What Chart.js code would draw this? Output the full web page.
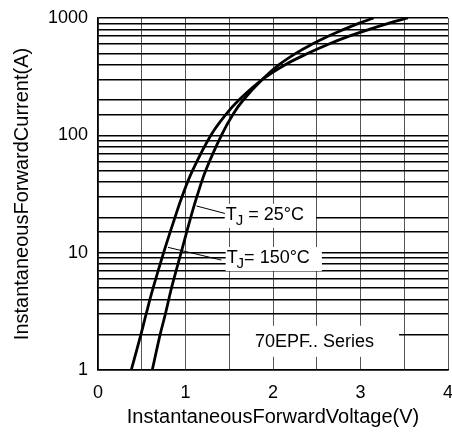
<!DOCTYPE html>
<html>
<head>
<meta charset="utf-8">
<script src="https://cdn.jsdelivr.net/npm/chart.js@4.4.1/dist/chart.umd.min.js"></script>
<style>
  html, body { margin: 0; padding: 0; background: #fff; }
</style>
</head>
<body>
<canvas id="chart" width="452" height="437"></canvas>
<script>
// forward voltage (V) at each current (A)
const current150 = [1, 2, 3, 5, 10, 20, 30, 50, 100, 150, 200, 300, 400, 500, 600, 700, 800, 900, 1000];
const voltage150 = [0.38, 0.49, 0.55, 0.63, 0.75, 0.88, 0.96, 1.08, 1.29, 1.46, 1.61, 1.88, 2.14, 2.40, 2.64, 2.87, 3.10, 3.32, 3.54];

const current25 = [1, 2, 3, 5, 10, 20, 30, 50, 100, 150, 200, 300, 400, 500, 600, 700, 800, 900, 1000];
const voltage25 = [0.62, 0.71, 0.77, 0.84, 0.95, 1.06, 1.13, 1.23, 1.41, 1.54, 1.66, 1.88, 2.07, 2.26, 2.45, 2.63, 2.81, 2.98, 3.15];

const xTickLabels = [0, 1, 2, 3, 4];
const yTickLabels = [1, 10, 100, 1000];

const FONT = "'Liberation Sans', Arial, sans-serif";

const toPoints = (xs, ys) => xs.map((x, i) => ({ x: x, y: ys[i] }));

// labels inside the plot
const tjLabels = [
  { temp: " = 25°C", at: [1.46, 21], from: [1.125, 25], to: [1.45, 21.6] },
  { temp: "= 150°C", at: [1.47, 9.0], from: [0.80, 11.1], to: [1.41, 8.65] }
];
const seriesLabel = { text: "70EPF.. Series", at: [2.475, 1.74] };

const notesPlugin = {
  id: "notes",
  beforeDatasetsDraw(chart) {
    const ctx = chart.ctx;
    const xs = chart.scales.x, ys = chart.scales.y;
    ctx.save();

    // series name, on a white box
    let cx = xs.getPixelForValue(seriesLabel.at[0]);
    let cy = ys.getPixelForValue(seriesLabel.at[1]);
    ctx.font = "18px " + FONT;
    let w = ctx.measureText(seriesLabel.text).width;
    ctx.fillStyle = "#fff";
    ctx.fillRect(cx - w / 2 - 25, cy - 16, w + 50, 31);
    ctx.fillStyle = "#000";
    ctx.textAlign = "center";
    ctx.textBaseline = "middle";
    ctx.fillText(seriesLabel.text, cx, cy);

    tjLabels.forEach(l => {
      const x0 = xs.getPixelForValue(l.at[0]);
      const y0 = ys.getPixelForValue(l.at[1]);
      ctx.font = "18px " + FONT;
      const wT = ctx.measureText("T").width;
      ctx.font = "15px " + FONT;
      const wJ = ctx.measureText("J").width;
      ctx.font = "18px " + FONT;
      const wR = ctx.measureText(l.temp).width;
      ctx.fillStyle = "#fff";
      ctx.fillRect(x0 - 1, y0 - 11, wT + wJ + wR + 12, 24);

      ctx.fillStyle = "#000";
      ctx.textAlign = "left";
      ctx.textBaseline = "middle";
      ctx.fillText("T", x0, y0);
      ctx.font = "15px " + FONT;
      ctx.fillText("J", x0 + wT - 1, y0 + 6);
      ctx.font = "18px " + FONT;
      ctx.fillText(l.temp, x0 + wT + wJ - 1, y0);

      ctx.strokeStyle = "#000";
      ctx.lineWidth = 1;
      ctx.beginPath();
      ctx.moveTo(xs.getPixelForValue(l.from[0]), ys.getPixelForValue(l.from[1]));
      ctx.lineTo(xs.getPixelForValue(l.to[0]), ys.getPixelForValue(l.to[1]));
      ctx.stroke();
    });
    ctx.restore();
  }
};

const isDecade = v => {
  const l = Math.log10(v);
  return Math.abs(l - Math.round(l)) < 1e-9;
};

new Chart(document.getElementById("chart"), {
  type: "scatter",
  data: {
    datasets: [
      {
        label: "TJ = 25°C",
        data: toPoints(voltage25, current25),
        showLine: true,
        borderColor: "#000",
        borderWidth: 2.8,
        pointRadius: 0,
        tension: 0.4
      },
      {
        label: "TJ = 150°C",
        data: toPoints(voltage150, current150),
        showLine: true,
        borderColor: "#000",
        borderWidth: 2.8,
        pointRadius: 0,
        tension: 0.4
      }
    ]
  },
  options: {
    responsive: false,
    animation: false,
    layout: { padding: { top: 18, right: 4, left: 0, bottom: 0 } },
    plugins: {
      legend: { display: false },
      tooltip: { enabled: false }
    },
    scales: {
      x: {
        type: "linear",
        min: 0,
        max: 4,
        ticks: {
          stepSize: 0.5,
          autoSkip: false,
          maxRotation: 0,
          padding: 12,
          color: "#000",
          font: { family: FONT, size: 18 },
          callback: v => (xTickLabels.includes(v) ? String(v) : "")
        },
        grid: { color: "#555", lineWidth: 1, drawTicks: false },
        border: { color: "#000", width: 1.5 },
        title: {
          display: true,
          text: "InstantaneousForwardVoltage(V)",
          color: "#000",
          font: { family: FONT, size: 20 },
          padding: { top: 0, bottom: 8 }
        },
        afterFit(s) {
          s.height = 67;
          s.paddingLeft = 0;
          s.paddingRight = 0;
        }
      },
      y: {
        type: "logarithmic",
        min: 1,
        max: 1000,
        ticks: {
          autoSkip: false,
          padding: 10,
          color: "#000",
          font: { family: FONT, size: 18 },
          callback: v => (isDecade(v) && yTickLabels.includes(Math.round(v)) ? String(Math.round(v)) : "")
        },
        grid: { color: "#000", lineWidth: 1.6, drawTicks: false },
        border: { color: "#000", width: 1.5 },
        title: {
          display: true,
          text: "InstantaneousForwardCurrent(A)",
          color: "#000",
          font: { family: FONT, size: 20 },
          padding: { top: 10, bottom: 0 }
        },
        afterFit(s) {
          s.width = 98;
          s.paddingTop = 0;
          s.paddingBottom = 0;
        }
      }
    }
  },
  plugins: [notesPlugin]
});
</script>
</body>
</html>
